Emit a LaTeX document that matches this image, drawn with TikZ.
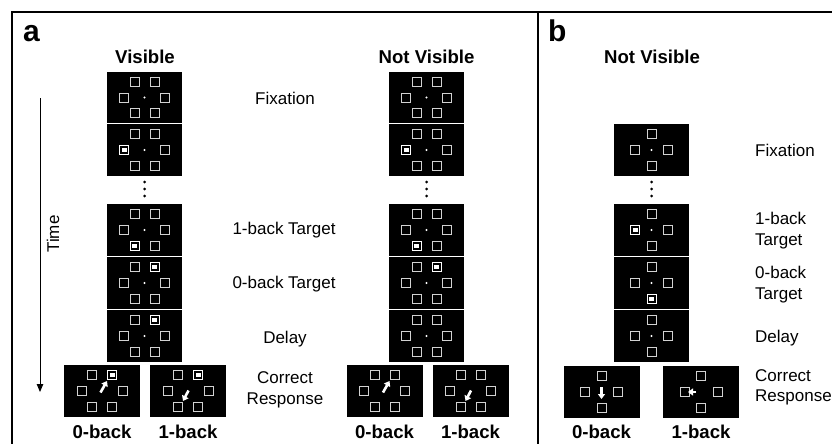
\documentclass[tikz,border=0pt]{standalone}
\usepackage{fontspec}
\setmainfont{Liberation Sans}
\usetikzlibrary{arrows.meta}

\tikzset{
  pantalla/.style={fill=black, minimum width=75pt, minimum height=51.5pt, inner sep=0pt},
  respuesta/.style={pantalla, minimum width=76pt, minimum height=52pt},
  caja/.style={draw=gray!35, line width=1pt},
  marcada/.style={draw=white, line width=1pt},
  flecha/.style={white, line width=2.6pt, -{Triangle[length=5pt,width=7pt]}},
  etiqueta/.style={font=\fontsize{17}{20.5}\selectfont, align=center, inner sep=0pt},
  titulo/.style={font=\bfseries\fontsize{18.6}{22}\selectfont, inner sep=0pt},
  letra/.style={font=\bfseries\fontsize{30}{34}\selectfont, inner sep=0pt}
}

% cajas de cada pantalla
\newcommand\seis[1]{%
  \foreach \dx/\dy in {-10/-16,10/-16,-20.5/0,20.5/0,-10/15.5,10/15.5}
    \draw[caja] ([shift={(\dx-4.5,\dy-4.5)}]#1.center) rectangle ++(9,9);}
\newcommand\cuatro[1]{%
  \foreach \dx/\dy in {0/-16.5,-16.5/0,16.5/0,0/15.5}
    \draw[caja] ([shift={(\dx-4.5,\dy-4.5)}]#1.center) rectangle ++(9,9);}
\newcommand\punto[1]{\fill[white] (#1.center) circle (1.2);}
\newcommand\marca[3]{%
  \draw[marcada] ([shift={(#2-4.5,#3-4.5)}]#1.center) rectangle ++(9,9);
  \fill[white] ([shift={(#2-2.5,#3-2)}]#1.center) rectangle ++(5,4);}

\begin{document}
\begin{tikzpicture}[x=1pt,y=-1pt]
  \useasboundingbox (0,0) rectangle (832,444);
  %marco
  \draw[line width=2pt] (12,444) -- (12,12) -- (832,12);
  \draw[line width=2pt] (538,12) -- (538,444);
  \node[letra, anchor=base west] (la) at (23,42) {a};
  \node[letra, anchor=base west] (lb) at (548,42) {b};

  %titulos
  \node[titulo] (tv) at (145,57) {Visible};
  \node[titulo] (tnv) at (426.5,57) {Not Visible};
  \node[titulo] (tb) at (652,57) {Not Visible};

  %tiempo
  \coordinate (t0) at (40,98);
  \coordinate (t1) at (40,392);
  \draw[line width=0.9pt, -{Triangle[length=8pt,width=6.5pt]}] (t0) -- (t1);
  \node[etiqueta, rotate=90] (time) at (53,234) {Time};

  %%%% VISIBLE
  \node[pantalla] (v1) at (144.5,97.5) {};
  \node[pantalla] (v2) at (144.5,150) {};
  \node[pantalla] (v3) at (144.5,230) {};
  \node[pantalla] (v4) at (144.5,283) {};
  \node[pantalla] (v5) at (144.5,336) {};
  \node[respuesta] (v0b) at (102,391) {};
  \node[respuesta] (v1b) at (188,391) {};
  \seis{v1} \seis{v2} \seis{v3} \seis{v4} \seis{v5} \seis{v0b} \seis{v1b}
  \punto{v1} \punto{v2} \punto{v3} \punto{v4} \punto{v5}
  \marca{v2}{-20.5}{0}
  \marca{v3}{-10}{15.5}
  \marca{v4}{10}{-16}
  \marca{v5}{10}{-16}
  \marca{v0b}{10}{-16}
  \marca{v1b}{10}{-16}
  \draw[flecha] ([shift={(-1.5,1.5)}]v0b.center) -- ([shift={(5,-10)}]v0b.center);
  \draw[flecha] ([shift={(0.5,-0.5)}]v1b.center) -- ([shift={(-5,10)}]v1b.center);
  \fill (144.5,182) circle (1.5);
  \fill (144.5,189) circle (1.5);
  \fill (144.5,196) circle (1.5);
  \node[titulo] (l0v) at (102,432) {0-back};
  \node[titulo] (l1v) at (188,432) {1-back};

  %%%% NOT VISIBLE
  \node[pantalla] (n1) at (426.5,97.5) {};
  \node[pantalla] (n2) at (426.5,150) {};
  \node[pantalla] (n3) at (426.5,230) {};
  \node[pantalla] (n4) at (426.5,283) {};
  \node[pantalla] (n5) at (426.5,336) {};
  \node[respuesta] (n0b) at (384.5,391) {};
  \node[respuesta] (n1b) at (470.5,391) {};
  \seis{n1} \seis{n2} \seis{n3} \seis{n4} \seis{n5} \seis{n0b} \seis{n1b}
  \punto{n1} \punto{n2} \punto{n3} \punto{n4} \punto{n5}
  \marca{n2}{-20.5}{0}
  \marca{n3}{-10}{15.5}
  \marca{n4}{10}{-16}
  \draw[flecha] ([shift={(-1.5,1.5)}]n0b.center) -- ([shift={(5,-10)}]n0b.center);
  \draw[flecha] ([shift={(0.5,-0.5)}]n1b.center) -- ([shift={(-5,10)}]n1b.center);
  \fill (426.5,182) circle (1.5);
  \fill (426.5,189) circle (1.5);
  \fill (426.5,196) circle (1.5);
  \node[titulo] (l0n) at (384.5,432) {0-back};
  \node[titulo] (l1n) at (470.5,432) {1-back};

  %etiquetas a
  \node[etiqueta] (fix) at (285,98) {Fixation};
  \node[etiqueta] (t1a) at (284,230.5) {1-back Target};
  \node[etiqueta] (t0a) at (284,284.5) {0-back Target};
  \node[etiqueta] (del) at (285,339) {Delay};
  \node[etiqueta] (cor) at (285,390) {Correct\\Response};

  %%%% PANEL B
  \node[pantalla] (b1) at (651.5,150) {};
  \node[pantalla] (b3) at (651.5,230) {};
  \node[pantalla] (b4) at (651.5,283) {};
  \node[pantalla] (b5) at (651.5,336) {};
  \node[respuesta] (b0b) at (601.5,392) {};
  \node[respuesta] (b1b) at (701,392) {};
  \cuatro{b1} \cuatro{b3} \cuatro{b4} \cuatro{b5} \cuatro{b0b} \cuatro{b1b}
  \punto{b1} \punto{b3} \punto{b4} \punto{b5}
  \marca{b3}{-16.5}{0}
  \marca{b4}{0}{15.5}
  \draw[flecha] ([shift={(0,-5)}]b0b.center) -- ([shift={(0,7)}]b0b.center);
  \draw[flecha] ([shift={(-5,0)}]b1b.center) -- ([shift={(-13,0)}]b1b.center);
  \fill (651.5,182) circle (1.5);
  \fill (651.5,189) circle (1.5);
  \fill (651.5,196) circle (1.5);
  \node[titulo] (l0b) at (601.5,432) {0-back};
  \node[titulo] (l1b) at (701,432) {1-back};

  %etiquetas b
  \node[etiqueta, anchor=west, align=left] (fixb) at (755,150) {Fixation};
  \node[etiqueta, anchor=west, align=left] (t1b) at (755,230.5) {1-back\\Target};
  \node[etiqueta, anchor=west, align=left] (t0b) at (755,284.5) {0-back\\Target};
  \node[etiqueta, anchor=west, align=left] (delb) at (755,338) {Delay};
  \node[etiqueta, anchor=west, align=left] (corb) at (755,387.5) {Correct\\Response};
\end{tikzpicture}
\end{document}
